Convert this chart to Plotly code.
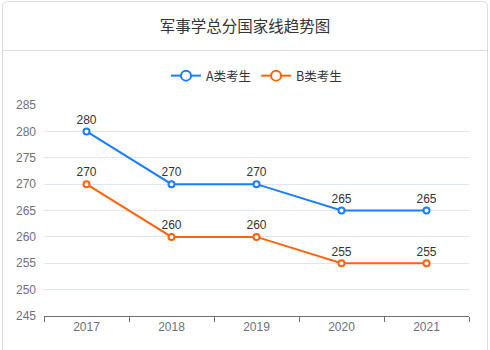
import plotly.graph_objects as go

years = ["2017", "2018", "2019", "2020", "2021"]
score_a = [280, 270, 270, 265, 265]
score_b = [270, 260, 260, 255, 255]
series_names = ["A类考生", "B类考生"]
series_colors = ["#1a7dfc", "#ff6309"]
chart_title = "军事学总分国家线趋势图"
y_ticks = [245, 250, 255, 260, 265, 270, 275, 280, 285]

W, H = 490, 350
L, R, T, B = 44, 21, 105, 34
pw, ph = W - L - R, H - T - B
NUM_FONT = "Liberation Sans, Arial, sans-serif"
CJK_FONT = "Noto Sans CJK SC, sans-serif"


def px_x(x):
    return (x - L) / pw


def px_y(y):
    return (H - B - y) / ph


fig = go.Figure()
for name, vals, color in zip(series_names, [score_a, score_b], series_colors):
    fig.add_trace(go.Scatter(
        x=years, y=vals, name=name, mode="lines+markers+text",
        text=[str(v) for v in vals], textposition="top center",
        textfont=dict(size=12, color="#333", family=NUM_FONT),
        line=dict(color=color, width=2),
        marker=dict(size=6, color="white", line=dict(color=color, width=2)),
        cliponaxis=False, showlegend=False,
    ))
    # legend entry with a larger hollow circle
    fig.add_trace(go.Scatter(
        x=[None], y=[None], name=name, mode="lines+markers",
        line=dict(color=color, width=2),
        marker=dict(size=10, color="white", line=dict(color=color, width=2)),
        showlegend=True,
    ))

# card outline with rounded corners and header divider
x0, x1 = px_x(2.5), px_x(487.5)
y0, y1 = px_y(1.5), px_y(360)
rx, ry = 5 / pw, 5 / ph
card_path = (
    f"M {x0 + rx},{y0} L {x1 - rx},{y0} Q {x1},{y0} {x1},{y0 - ry} "
    f"L {x1},{y1} L {x0},{y1} L {x0},{y0 - ry} Q {x0},{y0} {x0 + rx},{y0} Z"
)
fig.add_shape(type="path", path=card_path, xref="paper", yref="paper",
              line=dict(color="#dcdcdc", width=1), fillcolor="rgba(0,0,0,0)", layer="below")
fig.add_shape(type="line", xref="paper", yref="paper",
              x0=x0, x1=x1, y0=px_y(50.5), y1=px_y(50.5),
              line=dict(color="#dcdcdc", width=1))

fig.update_layout(
    width=W, height=H,
    margin=dict(l=L, r=R, t=T, b=B),
    paper_bgcolor="white", plot_bgcolor="white",
    font=dict(family=NUM_FONT),
    title=dict(text=chart_title, x=0.5, xanchor="center", y=1 - 27 / H, yanchor="middle",
               yref="container", font=dict(size=15.5, color="#333", family=CJK_FONT)),
    legend=dict(orientation="h", x=0.5, xanchor="center", y=px_y(76), yanchor="middle",
                font=dict(size=12.5, color="#333", family=CJK_FONT),
                itemwidth=30, bgcolor="rgba(0,0,0,0)"),
    xaxis=dict(type="category", range=[-0.5, 4.5], tickson="boundaries", ticks="outside",
               ticklen=5, tickcolor="#6E7079", showline=True, linecolor="#6E7079",
               linewidth=1, showgrid=False, tickfont=dict(size=12, color="#6E7079"),
               fixedrange=True),
    yaxis=dict(range=[245, 285], tickvals=y_ticks, showgrid=True, gridcolor="#E0E6F1",
               gridwidth=1, zeroline=False, showline=False,
               tickfont=dict(size=12, color="#6E7079"), ticks="", ticklabelstandoff=7),
)

fig.write_html("out.html")
